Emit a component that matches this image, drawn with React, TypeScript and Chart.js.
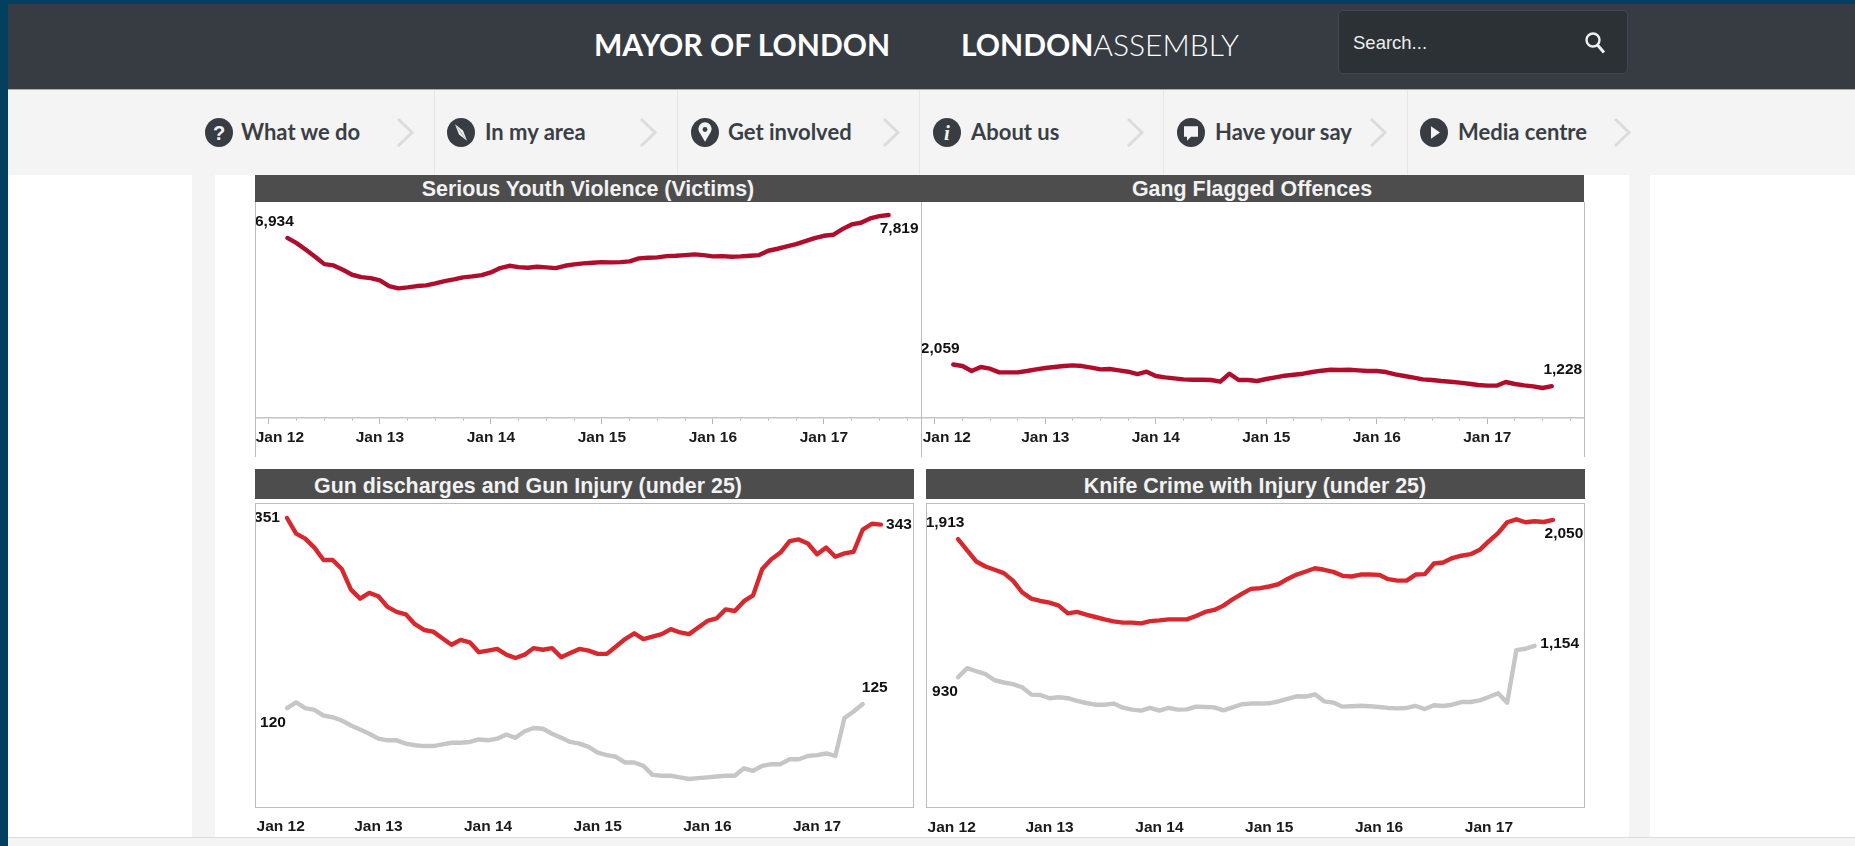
import React, { useEffect, useRef } from "react";
import { Chart, registerables } from "chart.js";

Chart.register(...registerables);

const FONT = '"Liberation Sans", Arial, sans-serif';
const START_MONTH = 2; // Mar 2012, counted in months from Jan 2012

const yearTicks = [0, 12, 24, 36, 48, 60];
const quarterTicks = [0, 3, 6, 9, 12, 15, 18, 21, 24, 27, 30, 33, 36, 39, 42, 45, 48, 51, 54, 57, 60, 63, 66, 69];
const yearLabels = ["Jan 12", "Jan 13", "Jan 14", "Jan 15", "Jan 16", "Jan 17"];

const youthViolence = [6934, 6736, 6479, 6210, 5927, 5876, 5709, 5517, 5427, 5389, 5299, 5081, 4991, 5029, 5081, 5106, 5183, 5273, 5337, 5414, 5453, 5504, 5607, 5774, 5863, 5812, 5786, 5825, 5799, 5774, 5863, 5915, 5953, 5979, 6004, 5992, 6004, 6030, 6146, 6171, 6184, 6235, 6248, 6274, 6300, 6274, 6223, 6235, 6210, 6223, 6248, 6274, 6441, 6518, 6607, 6697, 6813, 6928, 7018, 7057, 7275, 7454, 7518, 7685, 7775, 7819];
const gangOffences = [2059, 2001, 1809, 1963, 1899, 1758, 1758, 1758, 1809, 1873, 1925, 1963, 2001, 2027, 2001, 1937, 1873, 1886, 1835, 1783, 1694, 1783, 1617, 1565, 1527, 1488, 1475, 1475, 1463, 1398, 1706, 1463, 1463, 1424, 1501, 1565, 1629, 1668, 1706, 1770, 1822, 1860, 1848, 1860, 1835, 1809, 1809, 1770, 1681, 1617, 1552, 1488, 1463, 1424, 1398, 1360, 1321, 1270, 1245, 1245, 1386, 1309, 1257, 1219, 1155, 1228];
const gunRed = [351, 332, 326, 315, 300, 300, 289, 264, 253, 260, 256, 243, 237, 234, 222, 215, 213, 205, 197, 203, 200, 188, 190, 192, 185, 181, 185, 193, 191, 193, 182, 187, 192, 190, 186, 186, 195, 204, 211, 204, 207, 210, 216, 212, 210, 218, 226, 229, 240, 238, 250, 257, 289, 301, 309, 323, 325, 320, 307, 315, 304, 308, 310, 337, 344, 343];
const gunGrey = [120, 127, 120, 118, 111, 109, 105, 99, 94, 89, 83, 81, 81, 77, 75, 74, 74, 76, 78, 78, 79, 82, 81, 83, 88, 84, 92, 96, 95, 89, 84, 79, 77, 73, 66, 63, 61, 54, 54, 50, 39, 38, 38, 36, 34, 35, 36, 37, 38, 38, 47, 44, 50, 52, 52, 58, 58, 62, 63, 65, 62, 108, 116, 125];
const knifeRed = [1913, 1833, 1754, 1718, 1695, 1671, 1618, 1535, 1490, 1473, 1461, 1440, 1385, 1395, 1376, 1359, 1342, 1328, 1319, 1319, 1314, 1330, 1335, 1342, 1342, 1342, 1366, 1395, 1409, 1440, 1485, 1523, 1559, 1564, 1576, 1592, 1630, 1661, 1683, 1706, 1695, 1680, 1652, 1647, 1661, 1661, 1659, 1628, 1618, 1618, 1661, 1664, 1740, 1747, 1778, 1795, 1806, 1837, 1899, 1956, 2033, 2054, 2033, 2040, 2035, 2050];
const knifeGrey = [930, 995, 973, 952, 909, 893, 881, 859, 807, 804, 781, 788, 781, 762, 747, 735, 735, 743, 714, 700, 693, 712, 693, 712, 700, 702, 721, 719, 716, 695, 716, 738, 743, 743, 745, 759, 776, 795, 793, 809, 759, 750, 721, 724, 728, 724, 719, 712, 709, 712, 726, 704, 731, 726, 735, 754, 754, 766, 790, 816, 750, 1123, 1133, 1154];

const DARK_RED = "#b00d2c";
const BRIGHT_RED = "#d9272e";
const GREY = "#c6c6c6";

type EndLabel = { series: number; at: "first" | "last"; dx: number; dy: number };

type PanelSpec = {
  title: string;
  titleCentre: number;
  titleDrop: number;
  firstTickShift: number;
  barX: number;
  barW: number;
  barY: number;
  barH: number;
  canvas: { left: number; top: number; width: number; height: number };
  axisHeight: number;
  yMax: number;
  withAxis: boolean;
  series: { values: number[]; color: string }[];
  labels: EndLabel[];
};

const panels: PanelSpec[] = [
  {
    title: "Serious Youth Violence (Victims)", titleCentre: 588, titleDrop: 1, firstTickShift: 11, barX: 255, barW: 666, barY: 175, barH: 27,
    canvas: { left: 255, top: 203, width: 666, height: 254 }, axisHeight: 39, yMax: 8280, withAxis: true,
    series: [{ values: youthViolence, color: DARK_RED }],
    labels: [{ series: 0, at: "first", dx: -13, dy: -16 }, { series: 0, at: "last", dx: 10.5, dy: 14 }],
  },
  {
    title: "Gang Flagged Offences", titleCentre: 1252, titleDrop: 1, firstTickShift: 12, barX: 921, barW: 663, barY: 175, barH: 27,
    canvas: { left: 921, top: 203, width: 663, height: 254 }, axisHeight: 39, yMax: 8280, withAxis: true,
    series: [{ values: gangOffences, color: DARK_RED }],
    labels: [{ series: 0, at: "first", dx: -13, dy: -16 }, { series: 0, at: "last", dx: 11, dy: -16 }],
  },
  {
    title: "Gun discharges and Gun Injury (under 25)", titleCentre: 528, titleDrop: 2, firstTickShift: 12, barX: 255, barW: 659, barY: 469, barH: 30,
    canvas: { left: 255, top: 504, width: 658, height: 334 }, axisHeight: 31, yMax: 368, withAxis: false,
    series: [{ values: gunRed, color: BRIGHT_RED }, { values: gunGrey, color: GREY }],
    labels: [
      { series: 0, at: "first", dx: -20, dy: 0 }, { series: 0, at: "last", dx: 18, dy: 0 },
      { series: 1, at: "first", dx: -14, dy: 15 }, { series: 1, at: "last", dx: 12, dy: -16 },
    ],
  },
  {
    title: "Knife Crime with Injury (under 25)", titleCentre: 1255, titleDrop: 2, firstTickShift: 12, barX: 926, barW: 659, barY: 469, barH: 30,
    canvas: { left: 926, top: 504, width: 659, height: 334 }, axisHeight: 30, yMax: 2163, withAxis: false,
    series: [{ values: knifeRed, color: BRIGHT_RED }, { values: knifeGrey, color: GREY }],
    labels: [
      { series: 0, at: "first", dx: -13, dy: -16 }, { series: 0, at: "last", dx: 11, dy: 14 },
      { series: 1, at: "first", dx: -13, dy: 14 }, { series: 1, at: "last", dx: 25, dy: -2 },
    ],
  },
];

function ChartPanel({ spec }: { spec: PanelSpec }) {
  const ref = useRef<HTMLCanvasElement | null>(null);
  useEffect(() => {
    if (!ref.current) return;
    const endLabels = {
      id: "endLabels",
      afterDatasetsDraw(chart: any) {
        const { ctx, scales } = chart;
        ctx.save();
        ctx.font = `bold 15.5px ${FONT}`;
        ctx.fillStyle = "#111";
        ctx.textAlign = "center";
        ctx.textBaseline = "middle";
        spec.labels.forEach((l) => {
          const values = spec.series[l.series].values;
          const i = l.at === "first" ? 0 : values.length - 1;
          const x = scales.x.getPixelForValue(START_MONTH + i);
          const y = scales.y.getPixelForValue(values[i]);
          ctx.fillText(values[i].toLocaleString("en-GB"), x + l.dx, y + l.dy);
        });
        ctx.restore();
      },
    };
    const nudgeFirstTick = {
      id: "nudgeFirstTick",
      beforeDraw(chart: any) {
        const items = chart.scales.x.getLabelItems(chart.chartArea);
        const first = items.find((it: any) => it.label === yearLabels[0]);
        if (first && first.options && first.options.translation && !first.__moved) {
          first.options.translation = [first.options.translation[0] + spec.firstTickShift, first.options.translation[1]];
          first.__moved = true;
        }
      },
    };
    const chart = new Chart(ref.current, {
      type: "line",
      data: {
        datasets: spec.series.map((s) => ({
          data: s.values.map((v, i) => ({ x: START_MONTH + i, y: v })),
          borderColor: s.color,
          borderWidth: 4.4,
          pointRadius: 0,
          tension: 0,
          borderCapStyle: "round",
          borderJoinStyle: "round",
          fill: false,
        })),
      },
      options: {
        animation: false,
        responsive: false,
        maintainAspectRatio: false,
        layout: { padding: 0 },
        plugins: { legend: { display: false }, title: { display: false }, tooltip: { enabled: false } },
        scales: {
          y: { type: "linear", display: false, min: 0, max: spec.yMax },
          x: {
            type: "linear",
            min: -1.5,
            max: 70.5,
            afterBuildTicks(scale: any) {
              scale.ticks = (spec.withAxis ? quarterTicks : yearTicks).map((value) => ({ value }));
            },
            afterFit(scale: any) {
              scale.height = spec.axisHeight;
              scale.paddingLeft = 0;
              scale.paddingRight = 0;
            },
            border: { display: spec.withAxis, color: "#c4c4c4", width: 1.5 },
            grid: {
              drawOnChartArea: false,
              drawTicks: spec.withAxis,
              tickLength: 6,
              tickColor: "#b5b5b5",
              tickWidth: 1,
              tickBorderDash: (ctx: any) => (ctx.tick && ctx.tick.value % 12 === 0 ? [] : [2, 20]),
            },
            ticks: {
              autoSkip: false,
              maxRotation: 0,
              minRotation: 0,
              padding: spec.withAxis ? 4 : 10,
              color: "#1a1a1a",
              font: { family: FONT, size: 15.5, weight: "bold" },
              callback: (v: any) => (Number(v) % 12 === 0 ? yearLabels[Number(v) / 12] : ""),
            },
          },
        },
      },
      plugins: [endLabels, nudgeFirstTick],
    } as any);
    return () => chart.destroy();
  }, [spec]);

  return (
    <>
      <div style={{ position: "absolute", left: spec.barX, top: spec.barY, width: spec.barW, height: spec.barH, background: "#4d4d4d" }} />
      <div
        style={{
          position: "absolute", left: spec.titleCentre - 300, width: 600, top: spec.barY + spec.titleDrop, height: spec.barH,
          lineHeight: spec.barH + "px", textAlign: "center", color: "#f2f2f2", fontFamily: FONT, fontWeight: 700, fontSize: 21.4,
        }}
      >
        {spec.title}
      </div>
      <canvas
        ref={ref}
        width={spec.canvas.width}
        height={spec.canvas.height}
        style={{ position: "absolute", left: spec.canvas.left, top: spec.canvas.top, width: spec.canvas.width, height: spec.canvas.height }}
      />
    </>
  );
}

const navItems = [
  { text: "What we do", icon: 219, textX: 241, sep: 434, chev: 396, glyph: "?" },
  { text: "In my area", icon: 461, textX: 485, sep: 677, chev: 639, glyph: "compass" },
  { text: "Get involved", icon: 705, textX: 728, sep: 919, chev: 882, glyph: "pin" },
  { text: "About us", icon: 947, textX: 971, sep: 1163, chev: 1126, glyph: "i" },
  { text: "Have your say", icon: 1191, textX: 1215, sep: 1407, chev: 1369, glyph: "bubble" },
  { text: "Media centre", icon: 1434, textX: 1458, sep: 0, chev: 1613, glyph: "play" },
];

function Glyph({ kind }: { kind: string }) {
  const c = "#f4f4f4";
  if (kind === "?") return <text x="14" y="21" textAnchor="middle" fontFamily={FONT} fontWeight={700} fontSize="20" fill={c}>?</text>;
  if (kind === "i") return <text x="14" y="21" textAnchor="middle" fontFamily="'Liberation Serif', serif" fontStyle="italic" fontWeight={700} fontSize="21" fill={c}>i</text>;
  if (kind === "compass") return <path d="M8 6 L13 13 L20 22 L15 15 Z M8 6 L16 12 L20 22 L12 16 Z" fill={c} />;
  if (kind === "pin") return <><path d="M14 23 L8 13 A6.5 6.5 0 1 1 20 13 Z" fill={c} /><circle cx="14" cy="11" r="2.4" fill="#383d43" /></>;
  if (kind === "bubble") return <path d="M7 8 H21 V18 H14 L10 22 V18 H7 Z" fill={c} />;
  return <path d="M11 8 L20 14 L11 20 Z" fill={c} />;
}

export default function App() {
  return (
    <div style={{ position: "fixed", left: 0, top: 0, width: 1855, height: 846, overflow: "hidden", background: "#fff", fontFamily: FONT, filter: "blur(0.35px)" }}>
      <div style={{ position: "absolute", left: 192, top: 175, width: 23, height: 671, background: "#f4f4f4" }} />
      <div style={{ position: "absolute", left: 1629, top: 175, width: 21, height: 671, background: "#f4f4f4" }} />

      <div style={{ position: "absolute", left: 8, top: 4, width: 1847, height: 85, background: "#373c42" }} />
      <div style={{ position: "absolute", left: 8, top: 89, width: 1847, height: 1, background: "#a9abad" }} />
      <div style={{ position: "absolute", left: 8, top: 90, width: 1847, height: 85, background: "#f4f4f4" }} />

      <div style={{ position: "absolute", left: 594, top: 24, height: 40, lineHeight: "40px", color: "#fff", fontFamily: "Lato, sans-serif", fontWeight: 700, fontSize: 30, whiteSpace: "nowrap" }}>MAYOR OF LONDON</div>
      <div style={{ position: "absolute", left: 961, top: 24, height: 40, lineHeight: "40px", color: "#fff", fontFamily: "Lato, sans-serif", fontSize: 30, whiteSpace: "nowrap" }}>
        <span style={{ fontWeight: 700 }}>LONDON</span><span style={{ fontWeight: 300 }}>ASSEMBLY</span>
      </div>

      <div style={{ position: "absolute", left: 1338, top: 10, width: 290, height: 64, boxSizing: "border-box", background: "#2b3134", border: "1px solid #41474c", borderRadius: 5 }} />
      <div style={{ position: "absolute", left: 1353, top: 30, height: 26, lineHeight: "26px", color: "#eee", fontFamily: FONT, fontSize: 18.5 }}>Search...</div>
      <svg style={{ position: "absolute", left: 1583, top: 31 }} width="24" height="24" viewBox="0 0 24 24">
        <circle cx="10" cy="9" r="6.5" fill="none" stroke="#f0f0f0" strokeWidth="2.4" />
        <path d="M14.5 14 L21 21.5" stroke="#f0f0f0" strokeWidth="3" />
      </svg>

      {navItems.map((n) => (
        <React.Fragment key={n.text}>
          <svg style={{ position: "absolute", left: n.icon - 14, top: 118 }} width="28" height="29" viewBox="0 0 28 28" preserveAspectRatio="none">
            <circle cx="14" cy="14" r="14" fill="#383d43" />
            <Glyph kind={n.glyph} />
          </svg>
          <div style={{ position: "absolute", left: n.textX, top: 117, height: 29, lineHeight: "29px", color: "#3a3f45", fontFamily: "Lato, sans-serif", fontWeight: 700, fontSize: 22, whiteSpace: "nowrap" }}>{n.text}</div>
          <svg style={{ position: "absolute", left: n.chev, top: 118 }} width="19" height="29" viewBox="0 0 19 29">
            <path d="M2 1 L16 14.5 L2 28" fill="none" stroke="#dcdcdc" strokeWidth="3" />
          </svg>
          {n.sep > 0 && <div style={{ position: "absolute", left: n.sep, top: 90, width: 1, height: 85, background: "#e6e6e6" }} />}
        </React.Fragment>
      ))}

      {panels.map((p) => <ChartPanel key={p.title} spec={p} />)}

      {[255, 921, 1584].map((x) => (
        <div key={x} style={{ position: "absolute", left: x, top: 202, width: 1, height: 255, background: "#bdbdbd" }} />
      ))}
      <div style={{ position: "absolute", left: 255, top: 503, width: 659, height: 305, boxSizing: "border-box", border: "1px solid #bdbdbd", pointerEvents: "none" }} />
      <div style={{ position: "absolute", left: 926, top: 503, width: 659, height: 305, boxSizing: "border-box", border: "1px solid #bdbdbd", pointerEvents: "none" }} />

      <div style={{ position: "absolute", left: 8, top: 837, width: 1847, height: 9, background: "#f4f4f4", borderTop: "1px solid #dcdcdc", boxSizing: "border-box" }} />
      <div style={{ position: "absolute", left: 0, top: 0, width: 1855, height: 4, background: "#03405f" }} />
      <div style={{ position: "absolute", left: 0, top: 0, width: 8, height: 846, background: "#03405f" }} />
    </div>
  );
}
